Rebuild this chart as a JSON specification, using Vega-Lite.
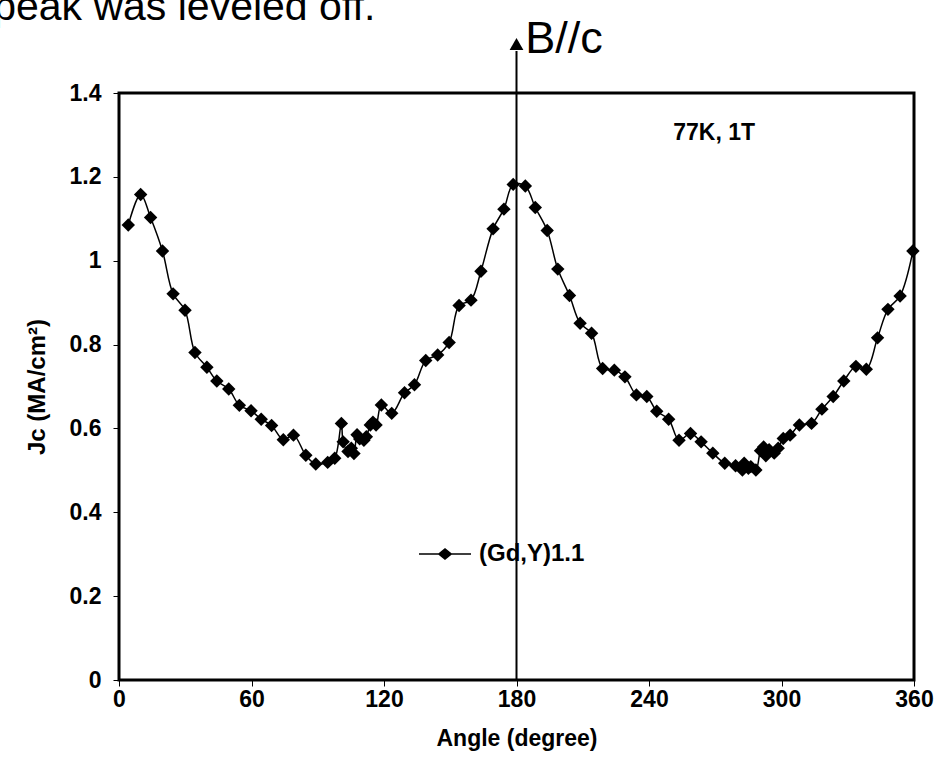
{
  "$schema": "https://vega.github.io/schema/vega-lite/v6.json",
  "width": 795,
  "height": 587,
  "autosize": "none",
  "padding": {"left": 119, "top": 93, "right": 25, "bottom": 98},
  "background": "white",
  "config": {
    "view": {"stroke": "black", "strokeWidth": 3},
    "font": "Liberation Sans"
  },
  "datasets": {
    "jc": [
      {"angle": 4.2, "jc": 1.085},
      {"angle": 9.8, "jc": 1.158},
      {"angle": 14.3, "jc": 1.103},
      {"angle": 19.7, "jc": 1.023},
      {"angle": 24.5, "jc": 0.921},
      {"angle": 29.9, "jc": 0.882},
      {"angle": 34.4, "jc": 0.781},
      {"angle": 39.8, "jc": 0.746},
      {"angle": 44.3, "jc": 0.713},
      {"angle": 49.7, "jc": 0.694},
      {"angle": 54.5, "jc": 0.655},
      {"angle": 59.8, "jc": 0.642},
      {"angle": 64.4, "jc": 0.622},
      {"angle": 69.1, "jc": 0.607},
      {"angle": 74.4, "jc": 0.573},
      {"angle": 79.0, "jc": 0.584},
      {"angle": 84.6, "jc": 0.536},
      {"angle": 89.1, "jc": 0.515},
      {"angle": 94.5, "jc": 0.519},
      {"angle": 97.7, "jc": 0.529},
      {"angle": 100.7, "jc": 0.612},
      {"angle": 101.5, "jc": 0.568},
      {"angle": 103.7, "jc": 0.545},
      {"angle": 105.2, "jc": 0.553},
      {"angle": 106.4, "jc": 0.540},
      {"angle": 107.8, "jc": 0.585},
      {"angle": 109.0, "jc": 0.575},
      {"angle": 110.9, "jc": 0.572},
      {"angle": 112.0, "jc": 0.580},
      {"angle": 113.8, "jc": 0.608},
      {"angle": 115.0, "jc": 0.615},
      {"angle": 116.4, "jc": 0.608},
      {"angle": 118.8, "jc": 0.656},
      {"angle": 123.5, "jc": 0.636},
      {"angle": 129.3, "jc": 0.685},
      {"angle": 133.8, "jc": 0.704},
      {"angle": 138.9, "jc": 0.762},
      {"angle": 144.3, "jc": 0.775},
      {"angle": 149.5, "jc": 0.805},
      {"angle": 154.0, "jc": 0.893},
      {"angle": 159.4, "jc": 0.906},
      {"angle": 163.9, "jc": 0.975},
      {"angle": 169.4, "jc": 1.076},
      {"angle": 174.3, "jc": 1.123},
      {"angle": 178.5, "jc": 1.182},
      {"angle": 184.0, "jc": 1.178},
      {"angle": 188.5, "jc": 1.127},
      {"angle": 193.9, "jc": 1.072},
      {"angle": 198.7, "jc": 0.980},
      {"angle": 204.0, "jc": 0.917},
      {"angle": 208.8, "jc": 0.851},
      {"angle": 214.0, "jc": 0.827},
      {"angle": 219.0, "jc": 0.743},
      {"angle": 224.3, "jc": 0.739},
      {"angle": 229.1, "jc": 0.723},
      {"angle": 234.3, "jc": 0.680},
      {"angle": 239.0, "jc": 0.676},
      {"angle": 243.5, "jc": 0.641},
      {"angle": 248.9, "jc": 0.622},
      {"angle": 253.6, "jc": 0.572},
      {"angle": 258.8, "jc": 0.588},
      {"angle": 263.6, "jc": 0.568},
      {"angle": 268.9, "jc": 0.541},
      {"angle": 274.3, "jc": 0.517},
      {"angle": 279.2, "jc": 0.511},
      {"angle": 282.3, "jc": 0.501},
      {"angle": 283.1, "jc": 0.517},
      {"angle": 285.0, "jc": 0.505},
      {"angle": 286.1, "jc": 0.509},
      {"angle": 288.4, "jc": 0.501},
      {"angle": 290.5, "jc": 0.547},
      {"angle": 291.9, "jc": 0.556},
      {"angle": 292.9, "jc": 0.535},
      {"angle": 294.4, "jc": 0.549},
      {"angle": 296.7, "jc": 0.541},
      {"angle": 298.5, "jc": 0.553},
      {"angle": 300.8, "jc": 0.576},
      {"angle": 303.9, "jc": 0.584},
      {"angle": 308.1, "jc": 0.608},
      {"angle": 313.6, "jc": 0.612},
      {"angle": 318.3, "jc": 0.646},
      {"angle": 323.4, "jc": 0.676},
      {"angle": 328.2, "jc": 0.713},
      {"angle": 333.7, "jc": 0.748},
      {"angle": 338.4, "jc": 0.741},
      {"angle": 343.5, "jc": 0.816},
      {"angle": 348.2, "jc": 0.884},
      {"angle": 353.7, "jc": 0.916},
      {"angle": 359.5, "jc": 1.023}
    ]
  },
  "layer": [
    {
      "data": {"name": "jc"},
      "mark": {"type": "line", "interpolate": "catmull-rom", "color": "black", "strokeWidth": 1.5},
      "encoding": {
        "x": {
          "field": "angle", "type": "quantitative",
          "scale": {"domain": [0, 360], "nice": false, "zero": false},
          "axis": {
            "title": "Angle (degree)",
            "values": [0, 60, 120, 180, 240, 300, 360],
            "domain": false, "grid": false,
            "tickSize": 6, "tickColor": "black", "tickWidth": 1,
            "labelFontSize": 23, "labelFontWeight": "bold", "labelColor": "black",
            "labelPadding": 2, "labelFlush": false,
            "titleFontSize": 23, "titleFontWeight": "bold", "titleColor": "black",
            "titlePadding": 16
          }
        },
        "y": {
          "field": "jc", "type": "quantitative",
          "scale": {"domain": [0, 1.4], "nice": false, "zero": false},
          "axis": {
            "title": "Jc (MA/cm²)",
            "values": [0, 0.2, 0.4, 0.6, 0.8, 1, 1.2, 1.4],
            "format": "~g",
            "domain": false, "grid": false,
            "tickSize": 6, "tickColor": "black", "tickWidth": 1,
            "labelFontSize": 23, "labelFontWeight": "bold", "labelColor": "black",
            "labelPadding": 12,
            "titleFontSize": 24, "titleFontWeight": "bold", "titleColor": "black",
            "titlePadding": 20
          }
        }
      }
    },
    {
      "data": {"name": "jc"},
      "mark": {"type": "point", "shape": "diamond", "filled": true, "size": 180, "opacity": 1},
      "encoding": {
        "x": {"field": "angle", "type": "quantitative"},
        "y": {"field": "jc", "type": "quantitative"},
        "color": {
          "datum": "(Gd,Y)1.1", "type": "nominal",
          "scale": {"range": ["black"]},
          "legend": {
            "orient": "none", "legendX": 299, "legendY": 434,
            "title": null, "padding": 0,
            "symbolType": "M-1,0L1,0M-0.24,0L0,-0.19L0.24,0L0,0.19Z",
            "symbolSize": 2704,
            "symbolFillColor": "black", "symbolStrokeColor": "black", "symbolStrokeWidth": 1.5,
            "labelFontSize": 24, "labelFontWeight": "bold", "labelColor": "black",
            "labelOffset": 7
          }
        }
      }
    },
    {
      "data": {"values": [{}]},
      "mark": {"type": "rule", "color": "black", "strokeWidth": 2},
      "encoding": {"x": {"datum": 180}, "y": {"datum": 0}, "y2": {"datum": 1.5}}
    },
    {
      "data": {"values": [{}]},
      "mark": {"type": "point", "shape": "triangle-up", "filled": true, "size": 190, "color": "black", "opacity": 1},
      "encoding": {"x": {"datum": 180}, "y": {"datum": 1.517}}
    },
    {
      "data": {"values": [{}]},
      "mark": {"type": "text", "text": "B//c", "align": "left", "baseline": "alphabetic", "fontSize": 45, "color": "black"},
      "encoding": {"x": {"datum": 184}, "y": {"datum": 1.495}}
    },
    {
      "data": {"values": [{}]},
      "mark": {"type": "text", "text": "peak was leveled off.", "align": "left", "baseline": "alphabetic", "fontSize": 41, "color": "black"},
      "encoding": {"x": {"datum": -57}, "y": {"datum": 1.574}}
    },
    {
      "data": {"values": [{}]},
      "mark": {"type": "text", "text": "77K, 1T", "align": "left", "baseline": "alphabetic", "fontSize": 23, "fontWeight": "bold", "color": "black"},
      "encoding": {"x": {"datum": 251}, "y": {"datum": 1.288}}
    }
  ]
}
